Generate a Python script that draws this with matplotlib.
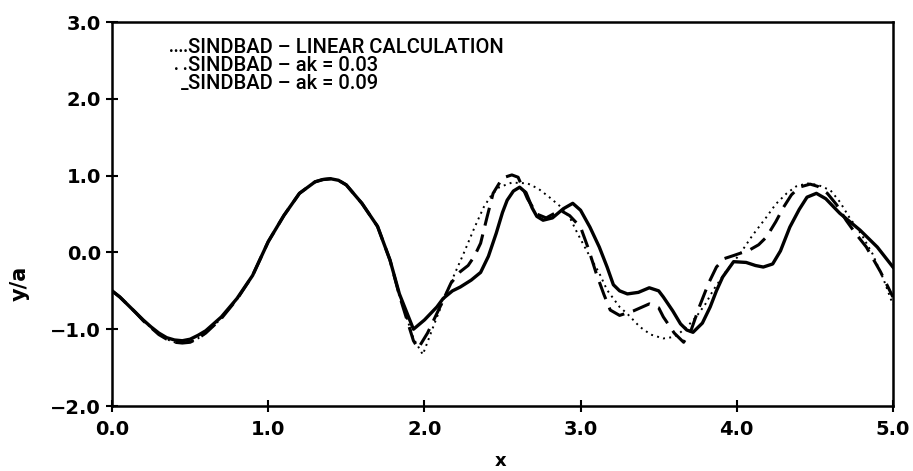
import matplotlib
matplotlib.use("Agg")
import matplotlib.pyplot as plt

# shared part of all three runs (x from 0 to ~1.9)
x_common = [0.0, 0.05, 0.1, 0.15, 0.2, 0.25, 0.3, 0.35, 0.4, 0.45, 0.5, 0.55, 0.6,
            0.7, 0.8, 0.9, 1.0, 1.1, 1.2, 1.3, 1.35, 1.4, 1.45, 1.5, 1.6, 1.7,
            1.78, 1.84]
y_common = [-0.50, -0.58, -0.68, -0.78, -0.88, -0.97, -1.05, -1.11, -1.14, -1.15,
            -1.13, -1.08, -1.02, -0.84, -0.60, -0.30, 0.14, 0.48, 0.77, 0.92, 0.95,
            0.96, 0.94, 0.88, 0.64, 0.34, -0.10, -0.54]
y_common_low = [-0.50, -0.58, -0.68, -0.78, -0.89, -0.98, -1.07, -1.13, -1.17, -1.18,
                -1.17, -1.12, -1.05, -0.86, -0.61, -0.30, 0.14, 0.48, 0.77, 0.92, 0.95,
                0.96, 0.94, 0.88, 0.64, 0.34, -0.10, -0.56]

# SINDBAD - ak = 0.09 (solid)
x_ak09 = [1.93, 2.00, 2.08, 2.12, 2.18, 2.23, 2.30, 2.36, 2.41, 2.46, 2.50, 2.53,
          2.57, 2.61, 2.65, 2.69, 2.72, 2.76, 2.82, 2.89, 2.95, 3.00, 3.06, 3.12,
          3.17, 3.21, 3.25, 3.30, 3.37, 3.44, 3.50, 3.53, 3.59, 3.64, 3.68, 3.72,
          3.78, 3.83, 3.87, 3.91, 3.98, 4.06, 4.12, 4.17, 4.23, 4.28, 4.34, 4.40,
          4.45, 4.51, 4.57, 4.66, 4.79, 4.90, 5.00]
y_ak09 = [-1.00, -0.88, -0.71, -0.60, -0.50, -0.45, -0.36, -0.26, -0.05, 0.25, 0.52,
          0.68, 0.80, 0.85, 0.78, 0.58, 0.47, 0.42, 0.45, 0.57, 0.64, 0.55, 0.33,
          0.07, -0.19, -0.42, -0.50, -0.54, -0.52, -0.46, -0.50, -0.58, -0.76, -0.93,
          -1.01, -1.04, -0.92, -0.71, -0.50, -0.32, -0.12, -0.13, -0.17, -0.19, -0.15,
          0.02, 0.33, 0.56, 0.72, 0.77, 0.70, 0.51, 0.29, 0.07, -0.19]

# SINDBAD - ak = 0.03 (dashed)
x_ak03 = [1.93, 1.96, 2.02, 2.10, 2.17, 2.23, 2.28, 2.32, 2.36, 2.40, 2.44, 2.50,
          2.56, 2.60, 2.66, 2.72, 2.78, 2.87, 2.93, 3.00, 3.05, 3.10, 3.15, 3.19,
          3.25, 3.34, 3.44, 3.50, 3.53, 3.60, 3.66, 3.71, 3.76, 3.82, 3.87, 3.92,
          3.98, 4.08, 4.14, 4.19, 4.25, 4.30, 4.35, 4.40, 4.47, 4.52, 4.58, 4.64,
          4.70, 4.76, 4.83, 4.92, 5.00]
y_ak03 = [-1.15, -1.25, -1.05, -0.71, -0.40, -0.25, -0.17, -0.05, 0.12, 0.45, 0.77,
          0.97, 1.01, 0.98, 0.70, 0.50, 0.45, 0.55, 0.48, 0.33, 0.05, -0.27, -0.55,
          -0.75, -0.82, -0.76, -0.67, -0.72, -0.84, -1.05, -1.17, -1.00, -0.71, -0.40,
          -0.19, -0.08, -0.04, 0.03, 0.10, 0.20, 0.40, 0.59, 0.75, 0.85, 0.89, 0.86,
          0.77, 0.62, 0.42, 0.25, 0.07, -0.25, -0.58]

# SINDBAD - linear calculation (dotted)
x_lin = [1.93, 1.99, 2.06, 2.14, 2.20, 2.25, 2.32, 2.38, 2.43, 2.48, 2.56, 2.66,
         2.73, 2.80, 2.87, 2.93, 2.98, 3.04, 3.12, 3.17, 3.25, 3.30, 3.38, 3.45,
         3.53, 3.60, 3.64, 3.69, 3.74, 3.80, 3.85, 3.93, 4.02, 4.10, 4.19, 4.25,
         4.32, 4.38, 4.45, 4.52, 4.60, 4.66, 4.72, 4.80, 4.87, 4.94, 5.00]
y_lin = [-1.12, -1.33, -0.95, -0.53, -0.25, -0.02, 0.32, 0.59, 0.75, 0.85, 0.91, 0.90,
         0.83, 0.72, 0.60, 0.46, 0.25, 0.02, -0.27, -0.49, -0.71, -0.80, -0.97, -1.07,
         -1.12, -1.10, -1.04, -0.95, -0.84, -0.67, -0.49, -0.25, -0.02, 0.22, 0.46,
         0.63, 0.77, 0.86, 0.90, 0.88, 0.81, 0.66, 0.46, 0.23, -0.02, -0.35, -0.68]

legend_marks = ["....", ". .", "_"]
legend_text = ["SINDBAD \u2013 LINEAR CALCULATION",
               "SINDBAD \u2013 ak = 0.03",
               "SINDBAD \u2013 ak = 0.09"]

xticks = [0.0, 1.0, 2.0, 3.0, 4.0, 5.0]
yticks = [-2.0, -1.0, 0.0, 1.0, 2.0, 3.0]

plt.rcParams['font.family'] = ['DejaVu Sans']
plt.rcParams['font.weight'] = 'bold'

fig = plt.figure(figsize=(9.13, 4.71), dpi=100)
ax = fig.add_axes([0.1227, 0.138, 0.8553, 0.815])

ax.plot(x_common + x_lin, y_common_low + y_lin, color='black', lw=1.4,
        linestyle=(0, (1, 2.2)))
ax.plot(x_common + x_ak03, y_common_low + y_ak03, color='black', lw=2.2,
        linestyle=(0, (6, 3)))
ax.plot(x_common + x_ak09, y_common + y_ak09, color='black', lw=2.4)

ax.set_xlim(0, 5)
ax.set_ylim(-2, 3)
ax.set_xticks(xticks)
ax.set_yticks(yticks)
ax.set_xticklabels([f'{t:.1f}' for t in xticks], fontsize=14)
ax.set_yticklabels([f'{t:.1f}'.replace('-', '\u2212') for t in yticks], fontsize=14)
ax.tick_params(axis='x', direction='inout', length=8, width=1.5, pad=6)
ax.tick_params(axis='y', direction='inout', length=8, width=1.5, pad=4)
for s in ax.spines.values():
    s.set_linewidth(1.8)

ax.set_xlabel('x', fontsize=13, fontweight='bold', va='center')
ax.xaxis.set_label_coords(0.497, -0.143)
ax.set_ylabel('y/a', fontsize=15, fontweight='bold')
ax.yaxis.set_label_coords(-0.105, 0.32)

# hand-drawn style legend in the upper left
for i, (m, t) in enumerate(zip(legend_marks, legend_text)):
    yy = 0.935 - i * 0.047
    ax.text(0.0974, yy, m, transform=ax.transAxes, ha='right', va='center',
            fontsize=12, family=['Roboto', 'DejaVu Sans'])
    ax.text(0.0974, yy, t, transform=ax.transAxes, ha='left', va='center',
            fontsize=14.5, family=['Roboto', 'DejaVu Sans'], fontweight='medium')

fig.savefig('out.png', dpi=100)
